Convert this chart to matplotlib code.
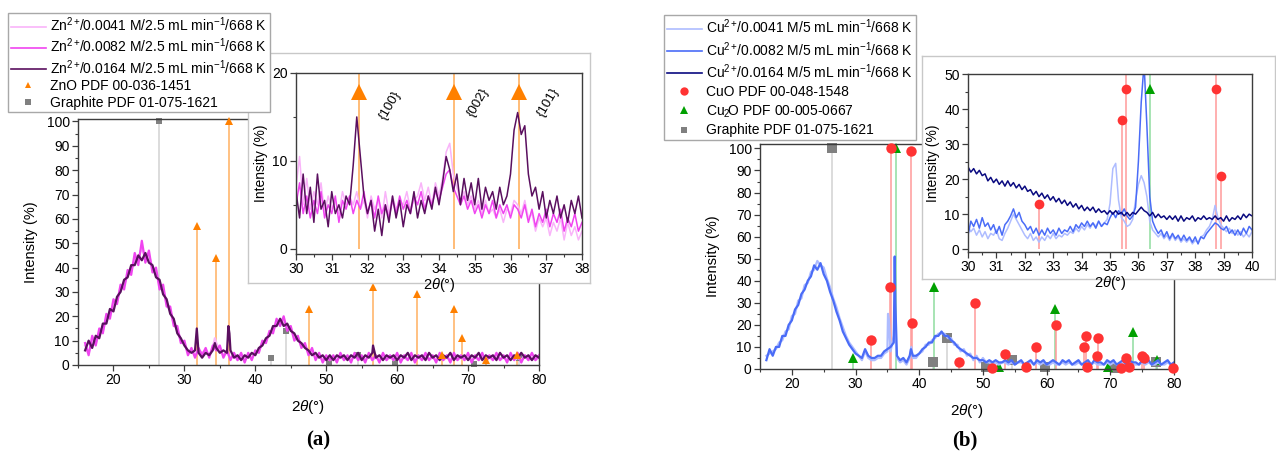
import numpy as np
import matplotlib
matplotlib.use('Agg')
import matplotlib.pyplot as plt
from matplotlib.lines import Line2D
from matplotlib.ticker import MultipleLocator

plt.rcParams['font.family'] = ['Liberation Sans', 'DejaVu Sans']
plt.rcParams['mathtext.fontset'] = 'custom'
plt.rcParams['mathtext.rm'] = 'Liberation Sans'
plt.rcParams['mathtext.it'] = 'Liberation Sans:italic'
plt.rcParams['mathtext.bf'] = 'Liberation Sans:bold'
plt.rcParams['font.size'] = 10

# ---------------- data ----------------
x_main = np.arange(16.0, 80.01, 0.5)
x_ins_a = np.arange(30.0, 38.01, 0.1)
x_ins_b = np.arange(30.0, 40.01, 0.1)

# panel (a) main, Zn series
zn_0164 = [6, 10, 7, 12, 11, 17, 17, 23, 22, 28,
           30, 35, 36, 41, 41, 45, 43, 46, 42, 41,
           36, 35, 29, 27, 21, 19, 13, 11, 8, 6,
           5, 6, 5, 3, 5, 4, 6, 7, 5, 6,
           5, 6, 3, 4, 2, 4, 3, 5, 4, 7,
           8, 11, 12, 16, 16, 19, 16, 17, 14, 13,
           10, 9, 7, 6, 4, 5, 3, 4, 2, 4,
           2, 4, 3, 4, 2, 4, 3, 5, 2, 4,
           3, 5, 3, 4, 2, 4, 3, 4, 2, 4,
           3, 5, 2, 4, 3, 4, 2, 5, 3, 4,
           2, 4, 3, 5, 2, 4, 3, 4, 2, 4,
           3, 5, 2, 4, 3, 4, 2, 5, 3, 4,
           2, 4, 3, 5, 3, 4, 2, 4, 3]
zn_0164_pk_x = [31.75, 34.3, 36.2, 36.35, 56.6]
zn_0164_pk_y = [15, 9, 16, 13, 8]

zn_0082 = [9, 4, 12, 8, 15, 13, 21, 19, 27, 25,
           33, 31, 39, 37, 46, 41, 51, 42, 47, 38,
           40, 31, 33, 24, 24, 16, 16, 9, 10, 4,
           7, 3, 7, 4, 7, 3, 8, 6, 8, 3,
           6, 2, 5, 2, 5, 1, 5, 2, 6, 5,
           10, 9, 14, 13, 19, 16, 20, 14, 16, 10,
           12, 7, 9, 4, 7, 2, 5, 1, 4, 2,
           4, 1, 5, 2, 4, 1, 5, 2, 4, 1,
           5, 2, 4, 1, 5, 2, 4, 2, 5, 1,
           4, 2, 5, 1, 4, 2, 5, 2, 4, 1,
           5, 2, 4, 1, 5, 2, 4, 2, 5, 1,
           4, 2, 5, 1, 4, 2, 5, 2, 4, 1,
           5, 2, 5, 1, 4, 2, 5, 2, 4]

zn_0041 = [8, 5, 10, 9, 13, 14, 19, 20, 25, 26,
           32, 33, 37, 39, 43, 44, 48, 44, 45, 40,
           38, 33, 31, 25, 22, 17, 14, 10, 9, 5,
           6, 4, 6, 5, 6, 4, 7, 9, 6, 4,
           5, 3, 4, 2, 4, 2, 4, 3, 5, 6,
           9, 10, 13, 14, 17, 17, 18, 15, 15, 11,
           11, 8, 8, 5, 6, 3, 4, 2, 3, 2,
           3, 2, 4, 2, 3, 2, 4, 2, 3, 2,
           4, 2, 3, 2, 4, 2, 3, 2, 4, 2,
           3, 2, 4, 2, 3, 2, 4, 2, 3, 2,
           4, 2, 3, 2, 4, 2, 3, 2, 4, 2,
           3, 2, 4, 2, 3, 2, 4, 2, 3, 2,
           4, 2, 3, 2, 4, 2, 3, 2, 3]
zn_0041_pk_x = [34.3]
zn_0041_pk_y = [11]

# panel (a) inset, 30-38 deg
zn_0164_ins = [6.5, 3.5, 8.5, 4.0, 7.0, 3.0, 8.5, 4.5, 5.5, 2.5,
               6.5, 4.0, 5.0, 3.5, 6.0, 5.0, 9.5, 15.0, 10.5, 6.0,
               4.0, 5.5, 2.0, 4.5, 1.5, 5.0, 3.0, 6.0, 3.5, 5.5,
               2.5, 5.0, 4.0, 6.5, 3.5, 5.5, 4.0, 6.0, 4.5, 7.0,
               5.0, 7.5, 10.5, 9.0, 6.5, 8.5, 5.0, 8.0, 5.5, 7.5,
               5.0, 8.0, 4.5, 7.0, 5.5, 6.5, 4.5, 7.0, 5.0, 6.0,
               8.5, 13.5, 15.5, 13.0, 14.0, 8.5, 6.0, 7.0, 4.5, 6.5,
               3.5, 5.5, 4.0, 6.0, 3.5, 5.0, 3.0, 5.5, 4.0, 6.0, 3.5]
zn_0082_ins = [5.0, 7.5, 4.0, 6.0, 3.5, 5.5, 4.0, 6.5, 3.5, 5.0,
               4.0, 6.0, 3.0, 5.5, 4.5, 6.0, 4.0, 5.5, 4.5, 6.5,
               4.0, 5.5, 3.5, 6.0, 4.0, 5.0, 3.5, 5.5, 4.0, 6.0,
               4.5, 5.5, 4.0, 6.0, 5.0, 6.5, 4.5, 6.0, 5.0, 6.5,
               5.5, 7.0, 8.5, 9.0, 7.0, 6.0, 5.0, 6.0, 4.5, 5.5,
               4.0, 5.0, 3.5, 5.0, 4.0, 5.5, 3.5, 5.0, 4.0, 5.0,
               3.5, 5.0, 4.5, 3.5, 5.0, 3.0, 4.5, 2.5, 4.0, 3.0,
               4.5, 2.5, 4.0, 3.0, 4.5, 2.0, 3.5, 2.5, 4.0, 2.0, 3.0]
zn_0041_ins = [7.0, 10.5, 5.0, 8.0, 4.5, 6.5, 5.0, 7.5, 4.0, 6.0,
               4.5, 5.5, 4.0, 6.5, 5.0, 6.0, 5.0, 6.5, 4.5, 5.5,
               3.5, 6.0, 4.5, 5.5, 3.5, 6.5, 4.0, 6.0, 4.5, 5.5,
               5.0, 6.5, 4.5, 5.5, 6.0, 7.5, 5.5, 7.0, 5.0, 7.5,
               6.0, 8.0, 11.0, 12.0, 8.5, 7.0, 5.5, 6.5, 5.0, 6.0,
               4.5, 5.5, 4.0, 5.5, 4.0, 4.5, 3.5, 4.5, 3.0, 4.5,
               4.0, 5.5, 5.0, 4.0, 5.5, 3.5, 4.0, 2.0, 3.5, 2.5,
               3.5, 1.5, 3.0, 2.0, 3.5, 1.0, 3.0, 1.5, 2.5, 1.0, 2.0]

# panel (b) main, Cu series
cu_0082 = [4, 9, 6, 10, 10, 15, 15, 20, 22, 27,
           29, 34, 36, 40, 42, 47, 45, 48, 43, 40,
           35, 31, 26, 22, 17, 14, 11, 9, 7, 6,
           5, 9, 6, 5, 5, 6, 6, 8, 9, 10,
           12, 6, 4, 5, 3, 6, 6, 6, 7, 9,
           10, 12, 12, 15, 15, 17, 15, 15, 13, 12,
           10, 9, 8, 7, 6, 5, 5, 4, 4, 3,
           4, 3, 4, 3, 3, 4, 3, 4, 2, 3,
           4, 2, 3, 4, 2, 4, 3, 4, 2, 3,
           4, 3, 2, 4, 3, 4, 2, 3, 4, 2,
           3, 4, 2, 4, 3, 3, 2, 4, 3, 4,
           2, 3, 4, 2, 4, 3, 3, 2, 4, 3,
           4, 2, 3, 4, 2, 3, 4, 2, 3]
cu_0082_pk_x = [36.15, 36.25, 38.7]
cu_0082_pk_y = [51, 30, 9]

cu_0041 = [6, 7, 8, 9, 12, 13, 17, 18, 24, 25,
           31, 32, 38, 39, 44, 45, 49, 47, 46, 41,
           37, 32, 28, 23, 19, 15, 12, 10, 8, 6,
           4, 8, 5, 4, 4, 5, 5, 7, 8, 8,
           15, 5, 3, 4, 2, 5, 5, 5, 7, 8,
           11, 11, 13, 14, 16, 16, 16, 14, 14, 11,
           11, 8, 9, 6, 7, 4, 6, 3, 5, 3,
           3, 2, 3, 2, 3, 3, 2, 3, 2, 3,
           3, 2, 3, 3, 2, 3, 2, 3, 2, 2,
           3, 2, 2, 3, 2, 3, 2, 2, 3, 2,
           2, 3, 2, 3, 2, 2, 2, 3, 2, 3,
           2, 2, 3, 2, 3, 2, 2, 2, 3, 2,
           3, 2, 2, 3, 2, 2, 3, 2, 2]
cu_0041_pk_x = [35.1, 35.25, 36.1, 38.75]
cu_0041_pk_y = [25, 22, 21, 10]

# panel (b) inset, 30-40 deg
cu_0164_ins = [23.5, 22.0, 23.0, 21.5, 22.5, 21.0, 21.5, 19.5, 20.5, 19.0,
               20.0, 18.5, 19.5, 18.0, 19.5, 18.0, 19.0, 17.5, 18.5, 17.0,
               18.0, 16.5, 17.0, 15.5, 16.5, 15.0, 16.0, 14.5, 15.5, 14.0,
               15.0, 13.5, 14.5, 13.0, 14.0, 12.5, 13.5, 12.0, 13.0, 11.5,
               12.5, 11.0, 12.0, 11.0, 12.0, 10.5, 11.5, 10.5, 11.0, 10.0,
               11.0, 10.0, 11.0, 10.0, 10.5, 9.5, 10.5, 9.5, 10.5, 10.0,
               11.0, 12.0, 11.0, 10.5, 9.5, 10.5, 9.0, 10.0, 9.0, 9.5,
               8.5, 9.5, 8.5, 9.5, 8.0, 9.5, 8.0, 9.0, 8.5, 9.5,
               8.0, 9.0, 8.5, 9.5, 8.5, 9.0, 8.5, 9.5, 8.5, 9.0,
               8.0, 9.5, 8.0, 9.0, 8.5, 9.5, 8.5, 10.0, 9.0, 10.0, 9.5]
cu_0082_ins = [4.0, 8.0, 6.5, 8.5, 6.0, 9.0, 6.5, 7.5, 5.5, 7.0,
               4.5, 6.5, 4.0, 7.0, 8.0, 9.5, 11.5, 9.0, 10.5, 8.0,
               7.0, 5.5, 6.5, 4.5, 6.0, 4.0, 5.5, 4.0, 6.0, 4.5,
               5.5, 4.0, 6.0, 4.5, 5.5, 5.0, 6.5, 5.0, 7.0, 6.0,
               7.5, 6.5, 8.0, 6.5, 7.5, 6.0, 8.0, 6.5, 7.5, 7.0,
               9.0, 10.5, 9.0, 11.0, 10.0, 11.5, 9.5, 8.5, 9.5, 12.0,
               25.0, 42.0, 53.0, 35.0, 15.0, 8.0, 6.0, 4.5, 5.5, 3.5,
               5.0, 3.0, 4.5, 3.0, 4.0, 2.5, 4.0, 2.5, 3.5, 2.0,
               3.5, 1.5, 3.5, 3.0, 4.5, 5.5, 6.5, 7.5, 7.0, 6.0,
               5.5, 6.5, 4.5, 5.5, 4.0, 5.5, 4.0, 6.0, 4.5, 6.5, 5.5]
cu_0041_ins = [6.5, 5.0, 6.0, 4.0, 5.5, 3.5, 5.0, 3.0, 4.5, 4.0,
               5.5, 3.0, 2.5, 4.5, 6.0, 8.0, 10.0, 8.5, 7.0, 5.5,
               4.0, 3.0, 4.5, 2.5, 3.5, 2.0, 3.5, 2.5, 4.0, 3.0,
               4.5, 3.0, 4.0, 3.5, 4.5, 4.0, 5.0, 4.5, 6.0, 5.0,
               6.5, 5.5, 7.0, 6.0, 7.5, 6.5, 8.0, 6.5, 7.5, 8.5,
               13.0, 23.0, 24.5, 14.0, 9.0, 8.0, 6.5, 7.0, 8.5, 14.0,
               18.5, 21.0, 19.0, 15.0, 8.0, 5.5, 4.5, 3.5, 4.5, 3.0,
               4.0, 2.5, 4.0, 2.5, 3.5, 2.0, 3.0, 2.0, 3.0, 1.5,
               2.5, 2.0, 3.5, 4.0, 5.5, 6.5, 8.5, 12.5, 9.0, 7.0,
               6.0, 5.0, 6.0, 4.5, 5.5, 4.0, 5.0, 3.5, 4.5, 3.5, 5.0]

# reference patterns
zno_pos = [31.77, 34.42, 36.25, 47.54, 56.60, 62.86, 66.38, 67.96, 69.10, 72.56, 76.95]
zno_int = [57, 44, 100, 23, 32, 29, 4, 23, 11, 2, 4]
gr_pos = [26.38, 42.22, 44.39, 50.45, 54.54, 59.69, 70.80, 77.24]
gr_int = [100, 3, 14, 1, 4, 1, 0.5, 3]
cuo_pos = [32.50, 35.42, 35.55, 38.73, 38.90, 46.27, 48.72, 51.35, 53.50, 56.75, 58.27,
           61.53, 65.80, 66.22, 66.40, 67.90, 68.12, 71.75, 72.40, 72.90, 74.99, 75.24, 79.90]
cuo_int = [13, 37, 100, 99, 21, 3, 30, 0.5, 7, 1, 10,
           20, 10, 15, 1, 6, 14, 0.5, 5, 1, 6, 5, 0.5]
cu2o_pos = [29.55, 36.42, 42.30, 52.45, 61.35, 69.60, 73.50, 77.35]
cu2o_int = [5, 100, 37, 1, 27, 1, 17, 4]
hkl_lbl = ['{100}', '{002}', '{101}']
hkl_x = [32.65, 35.1, 37.05]
hkl_y = [16.3, 16.6, 16.7]

zn_lbl = [r'Zn$^{2+}\!$/0.0041 M/2.5 mL min$^{-1}$/668 K',
          r'Zn$^{2+}\!$/0.0082 M/2.5 mL min$^{-1}$/668 K',
          r'Zn$^{2+}\!$/0.0164 M/2.5 mL min$^{-1}$/668 K',
          'ZnO PDF 00-036-1451', 'Graphite PDF 01-075-1621']
cu_lbl = [r'Cu$^{2+}\!$/0.0041 M/5 mL min$^{-1}$/668 K',
          r'Cu$^{2+}\!$/0.0082 M/5 mL min$^{-1}$/668 K',
          r'Cu$^{2+}\!$/0.0164 M/5 mL min$^{-1}$/668 K',
          'CuO PDF 00-048-1548', r'Cu$_2\!$O PDF 00-005-0667', 'Graphite PDF 01-075-1621']

# colours
c_pink, c_mag, c_pur = '#f9b4f9', '#f044f0', '#5a0f5f'
c_lb, c_mb, c_nv = '#aebcff', '#4a6cf7', '#0a0a80'
c_or, c_or_l = '#ff8000', '#ffb060'
c_rd, c_rd_l = '#ff3333', '#ff9a9a'
c_gn, c_gn_l = '#00a000', '#8fdc9f'
c_gr, c_gr_l = '#808080', '#d2d2d2'
xlab = r'2$\theta$(°)'

W, H = 1276, 466


def rect(l, t, r, b):
    return [l / W, 1 - b / H, (r - l) / W, (b - t) / H]


def peaks(x, y, px, py):
    xx = np.concatenate([x, px])
    yy = np.concatenate([np.asarray(y, float), py])
    o = np.argsort(xx)
    return xx[o], yy[o]


def style(ax, xmaj, xmin, ymaj, ymin):
    for s in ax.spines.values():
        s.set_color('#3c3c3c')
        s.set_linewidth(1.0)
    ax.xaxis.set_major_locator(MultipleLocator(xmaj))
    ax.xaxis.set_minor_locator(MultipleLocator(xmin))
    ax.yaxis.set_major_locator(MultipleLocator(ymaj))
    ax.yaxis.set_minor_locator(MultipleLocator(ymin))
    ax.tick_params(which='both', direction='out', color='#3c3c3c', labelsize=10, pad=2)
    ax.tick_params(which='major', length=4, width=0.9)
    ax.tick_params(which='minor', length=2.2, width=0.8)


def sticks(ax, pos, val, lc, mk, mc, ms, z=3):
    ax.vlines(pos, 0, val, colors=lc, lw=1.1, zorder=1)
    ax.plot(pos, val, ls='none', marker=mk, color=mc, ms=ms, mew=0, zorder=z, clip_on=False)


def box(rc):
    b = fig.add_axes(rc)
    b.set_xticks([])
    b.set_yticks([])
    for s in b.spines.values():
        s.set_color('#c8c8c8')
        s.set_linewidth(1.0)
    return b


fig = plt.figure(figsize=(W / 100, H / 100), dpi=100)

# ---------------- panel (a) ----------------
ax = fig.add_axes(rect(78, 119, 539, 365))
sticks(ax, gr_pos, gr_int, c_gr_l, 's', c_gr, 5, z=1.5)
sticks(ax, zno_pos, zno_int, c_or_l, '^', c_or, 5.5)
xa, ya = peaks(x_main, zn_0041, zn_0041_pk_x, zn_0041_pk_y)
ax.plot(xa, ya, color=c_pink, lw=1.6, zorder=2)
ax.plot(x_main, zn_0082, color=c_mag, lw=1.6, zorder=2)
xa, ya = peaks(x_main, zn_0164, zn_0164_pk_x, zn_0164_pk_y)
ax.plot(xa, ya, color=c_pur, lw=1.6, zorder=2)
ax.set_xlim(15, 80)
ax.set_ylim(0, 101)
style(ax, 10, 5, 10, 5)
ax.set_xlabel(xlab, fontsize=11, labelpad=8)
ax.set_ylabel('Intensity (%)', fontsize=10.5, labelpad=6)

box(rect(248, 53, 590, 283))
ia = fig.add_axes(rect(296, 73, 582, 254))
ia.plot(x_ins_a, zn_0041_ins, color=c_pink, lw=1.1, zorder=2)
ia.plot(x_ins_a, zn_0082_ins, color=c_mag, lw=1.1, zorder=2)
ia.plot(x_ins_a, zn_0164_ins, color=c_pur, lw=1.1, zorder=2)
sel = [i for i, p in enumerate(zno_pos) if 30 <= p <= 38]
ia.vlines([zno_pos[i] for i in sel], 0, 20, colors=c_or_l, lw=1.2, zorder=1)
ia.plot([zno_pos[i] for i in sel], [min(zno_int[i], 17.8) for i in sel], ls='none',
        marker='^', color=c_or, ms=11, mew=0, zorder=3)
for t, hx, hy in zip(hkl_lbl, hkl_x, hkl_y):
    ia.text(hx, hy, t, rotation=60, ha='center', va='center', fontsize=9.5)
ia.set_xlim(30, 38)
ia.set_ylim(-0.6, 20)
style(ia, 1, 0.5, 10, 5)
ia.set_xlabel(xlab, fontsize=10.5, labelpad=0)
ia.set_ylabel('Intensity (%)', fontsize=10, labelpad=3)

ha = [Line2D([], [], color=c_pink, lw=1.2), Line2D([], [], color=c_mag, lw=1.2),
      Line2D([], [], color=c_pur, lw=1.2),
      Line2D([], [], ls='none', marker='^', color=c_or, ms=5, mew=0),
      Line2D([], [], ls='none', marker='s', color=c_gr, ms=4, mew=0)]
fig.legend(ha, zn_lbl, loc='upper left', bbox_to_anchor=(8 / W, 1 - 13 / H),
           frameon=True, fancybox=False, edgecolor='#a8a8a8', framealpha=1,
           borderpad=0.2, labelspacing=0.18, handlelength=2.5, handletextpad=0.35,
           borderaxespad=0, fontsize=10)

# ---------------- panel (b) ----------------
bx = fig.add_axes(rect(760, 144, 1174, 369))
sticks(bx, gr_pos, gr_int, c_gr_l, 's', c_gr, 6.5, z=1.5)
sticks(bx, cu2o_pos, cu2o_int, c_gn_l, '^', c_gn, 6.5, z=1.5)
sticks(bx, cuo_pos, cuo_int, c_rd_l, 'o', c_rd, 7.5)
xb, yb = peaks(x_main, cu_0041, cu_0041_pk_x, cu_0041_pk_y)
bx.plot(xb, yb, color=c_lb, lw=1.6, zorder=2)
xb, yb = peaks(x_main, cu_0082, cu_0082_pk_x, cu_0082_pk_y)
bx.plot(xb, yb, color=c_mb, lw=1.6, zorder=2)
bx.set_xlim(15, 80)
bx.set_ylim(0, 102)
style(bx, 10, 5, 10, 5)
bx.set_xlabel(xlab, fontsize=11, labelpad=8)
bx.set_ylabel('Intensity (%)', fontsize=10.5, labelpad=6)

box(rect(922, 56, 1275, 279))
ib = fig.add_axes(rect(968, 74, 1252, 252))
ib.plot(x_ins_b, cu_0041_ins, color=c_lb, lw=1.1, zorder=2)
ib.plot(x_ins_b, cu_0082_ins, color=c_mb, lw=1.1, zorder=2)
ib.plot(x_ins_b, cu_0164_ins, color=c_nv, lw=1.1, zorder=2)
for pos, val, lc, mk, mc in [(cuo_pos, cuo_int, c_rd_l, 'o', c_rd),
                             (cu2o_pos, cu2o_int, c_gn_l, '^', c_gn)]:
    sel = [i for i, p in enumerate(pos) if 30 <= p <= 40]
    ib.vlines([pos[i] for i in sel], 0, [val[i] for i in sel], colors=lc, lw=1.1, zorder=1)
    ib.plot([pos[i] for i in sel], [min(val[i], 45.7) for i in sel], ls='none',
            marker=mk, color=mc, ms=7, mew=0, zorder=3)
ib.set_xlim(30, 40)
ib.set_ylim(-0.8, 50)
style(ib, 1, 0.5, 10, 5)
ib.set_xlabel(xlab, fontsize=10.5, labelpad=0)
ib.set_ylabel('Intensity (%)', fontsize=10, labelpad=3)

hb = [Line2D([], [], color=c_lb, lw=1.2), Line2D([], [], color=c_mb, lw=1.2),
      Line2D([], [], color=c_nv, lw=1.2),
      Line2D([], [], ls='none', marker='o', color=c_rd, ms=6, mew=0),
      Line2D([], [], ls='none', marker='^', color=c_gn, ms=6, mew=0),
      Line2D([], [], ls='none', marker='s', color=c_gr, ms=4.5, mew=0)]
fig.legend(hb, cu_lbl, loc='upper left', bbox_to_anchor=(664 / W, 1 - 15 / H),
           frameon=True, fancybox=False, edgecolor='#a8a8a8', framealpha=1,
           borderpad=0.2, labelspacing=0.28, handlelength=2.5, handletextpad=0.35,
           borderaxespad=0, fontsize=10)

fig.text(318 / W, 1 - 440 / H, '(a)', family='Liberation Serif', fontweight='bold',
         fontsize=15, ha='center', va='center')
fig.text(965 / W, 1 - 440 / H, '(b)', family='Liberation Serif', fontweight='bold',
         fontsize=15, ha='center', va='center')

fig.savefig('out.png', dpi=100)
